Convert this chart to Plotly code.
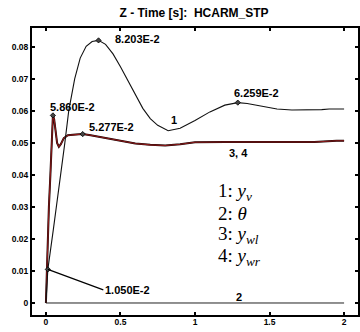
import plotly.graph_objects as go

# ---- data ----
x_yv = [0, 0.006, 0.013, 0.05, 0.08, 0.113, 0.127, 0.153, 0.193, 0.23, 0.27, 0.31, 0.353,
        0.40, 0.45, 0.50, 0.55, 0.60, 0.65, 0.70, 0.75, 0.82, 0.90, 1.00, 1.10,
        1.20, 1.287, 1.35, 1.45, 1.55, 1.65, 1.75, 1.85, 1.90, 2.0]
y_yv = [0, 0.006, 0.0105, 0.023, 0.033, 0.0447, 0.050, 0.060, 0.070, 0.0765, 0.0802, 0.0817, 0.08203,
        0.0808, 0.0778, 0.0738, 0.0695, 0.0650, 0.0608, 0.0576, 0.0555, 0.0538, 0.0546, 0.0570, 0.0597,
        0.0618, 0.06259, 0.0623, 0.0614, 0.0606, 0.0603, 0.0603, 0.0604, 0.0606, 0.0606]

x_theta = [0, 2.0]
y_theta = [0, 0]

x_yw = [0, 0.005, 0.013, 0.02, 0.03, 0.04, 0.047, 0.055, 0.065, 0.075, 0.087, 0.10, 0.12, 0.147,
        0.20, 0.247, 0.30, 0.40, 0.50, 0.60, 0.70, 0.80, 0.90, 1.00, 1.20, 1.40, 1.60,
        1.80, 1.95, 2.0]
y_yw = [0, 0.010, 0.020, 0.030, 0.040, 0.052, 0.0586, 0.0575, 0.053, 0.0500, 0.0488, 0.0496, 0.0515, 0.0524,
        0.0526, 0.05277, 0.0524, 0.0515, 0.0506, 0.0498, 0.0494, 0.0492, 0.0496, 0.0502, 0.0503, 0.0503, 0.0503,
        0.0503, 0.0507, 0.0507]

peak_x = [0.353, 1.287, 0.047, 0.247, 0.013]
peak_y = [0.08203, 0.06259, 0.0586, 0.05277, 0.0105]
peak_text = ["8.203E-2", "6.259E-2", "5.860E-2", "5.277E-2", "1.050E-2"]

x_ticks = [0, 0.5, 1, 1.5, 2]
x_tick_labels = ["0", "0.5", "1", "1.5", "2"]
y_ticks = [0, 0.01, 0.02, 0.03, 0.04, 0.05, 0.06, 0.07, 0.08]
y_tick_labels = ["0", "0.01", "0.02", "0.03", "0.04", "0.05", "0.06", "0.07", "0.08"]

legend_lines = ["1: <i>y</i><sub><i>v</i></sub>", "2: <i>θ</i>",
                "3: <i>y</i><sub><i>wl</i></sub>", "4: <i>y</i><sub><i>wr</i></sub>"]

fig = go.Figure()
fig.add_trace(go.Scatter(x=x_theta, y=y_theta, mode="lines",
                         line=dict(color="#222222", width=1)))
fig.add_trace(go.Scatter(x=x_yw, y=y_yw, mode="lines",
                         line=dict(color="#1a0505", width=2)))
fig.add_trace(go.Scatter(x=x_yw, y=y_yw, mode="lines",
                         line=dict(color="#8b1a1a", width=1.1)))
fig.add_trace(go.Scatter(x=x_yv, y=y_yv, mode="lines",
                         line=dict(color="#111111", width=1.1)))
fig.add_trace(go.Scatter(x=peak_x, y=peak_y, mode="markers",
                         marker=dict(symbol="diamond", size=4, color="#444444",
                                     line=dict(color="#000000", width=0.8))))

bold = dict(family="Arial, Liberation Sans, sans-serif", size=11, color="#000000")
ann = []
label_pos = [(0.447, 0.0825), (1.247, 0.0656), (0.013, 0.0612), (0.273, 0.0550)]
for (lx, ly), t in zip(label_pos, peak_text[:4]):
    ann.append(dict(x=lx, y=ly, text="<b>%s</b>" % t, showarrow=False,
                    xanchor="left", yanchor="middle", font=bold))
ann.append(dict(x=peak_x[4], y=peak_y[4], ax=0.385, ay=0.0041, axref="x", ayref="y",
                text="<b>%s</b>" % peak_text[4], showarrow=True, arrowhead=0,
                arrowwidth=1.2, arrowcolor="#000000", xanchor="left", yanchor="middle",
                font=bold, standoff=0))
for (lx, ly), t in zip([(0.86, 0.0572), (1.293, 0.0469), (1.293, 0.0020)], ["1", "3, 4", "2"]):
    ann.append(dict(x=lx, y=ly, text="<b>%s</b>" % t, showarrow=False,
                    xanchor="center", yanchor="middle", font=bold))
for ly, t in zip([0.0347, 0.0281, 0.02125, 0.0144], legend_lines):
    ann.append(dict(x=1.14, y=ly, text=t, showarrow=False, xanchor="left", yanchor="middle",
                    font=dict(family="Liberation Serif, Times New Roman, serif", size=19,
                              color="#000000")))

tickfont = dict(family="Arial, Liberation Sans, sans-serif", size=8.5, color="#000000")
fig.update_layout(
    width=360, height=332,
    margin=dict(l=32, r=0, t=28, b=17),
    paper_bgcolor="white", plot_bgcolor="white",
    showlegend=False,
    title=dict(text="<b>Z - Time [s]:  HCARM_STP</b>", x=0.539, xref="container",
               xanchor="center", y=0.961, yref="container", yanchor="middle",
               font=dict(family="Arial, Liberation Sans, sans-serif", size=12, color="#000000")),
    annotations=ann,
    xaxis=dict(range=[-0.0933, 2.0933], tickvals=x_ticks, ticktext=["<b>%s</b>" % s for s in x_tick_labels],
               ticks="inside", ticklen=3, tickwidth=1.5, tickcolor="#000000",
               showline=True, linewidth=2, linecolor="#000000", mirror="ticks",
               showgrid=False, zeroline=False, tickfont=tickfont, ticklabelstandoff=-2),
    yaxis=dict(range=[-0.00375, 0.0859], tickvals=y_ticks, ticktext=["<b>%s</b>" % s for s in y_tick_labels],
               ticks="inside", ticklen=3, tickwidth=1.5, tickcolor="#000000",
               showline=True, linewidth=2, linecolor="#000000", mirror="ticks",
               showgrid=False, zeroline=False, tickfont=tickfont),
)
fig.write_html("out.html", config={"displayModeBar": False},
               post_script="document.body.style.margin='0px';")
